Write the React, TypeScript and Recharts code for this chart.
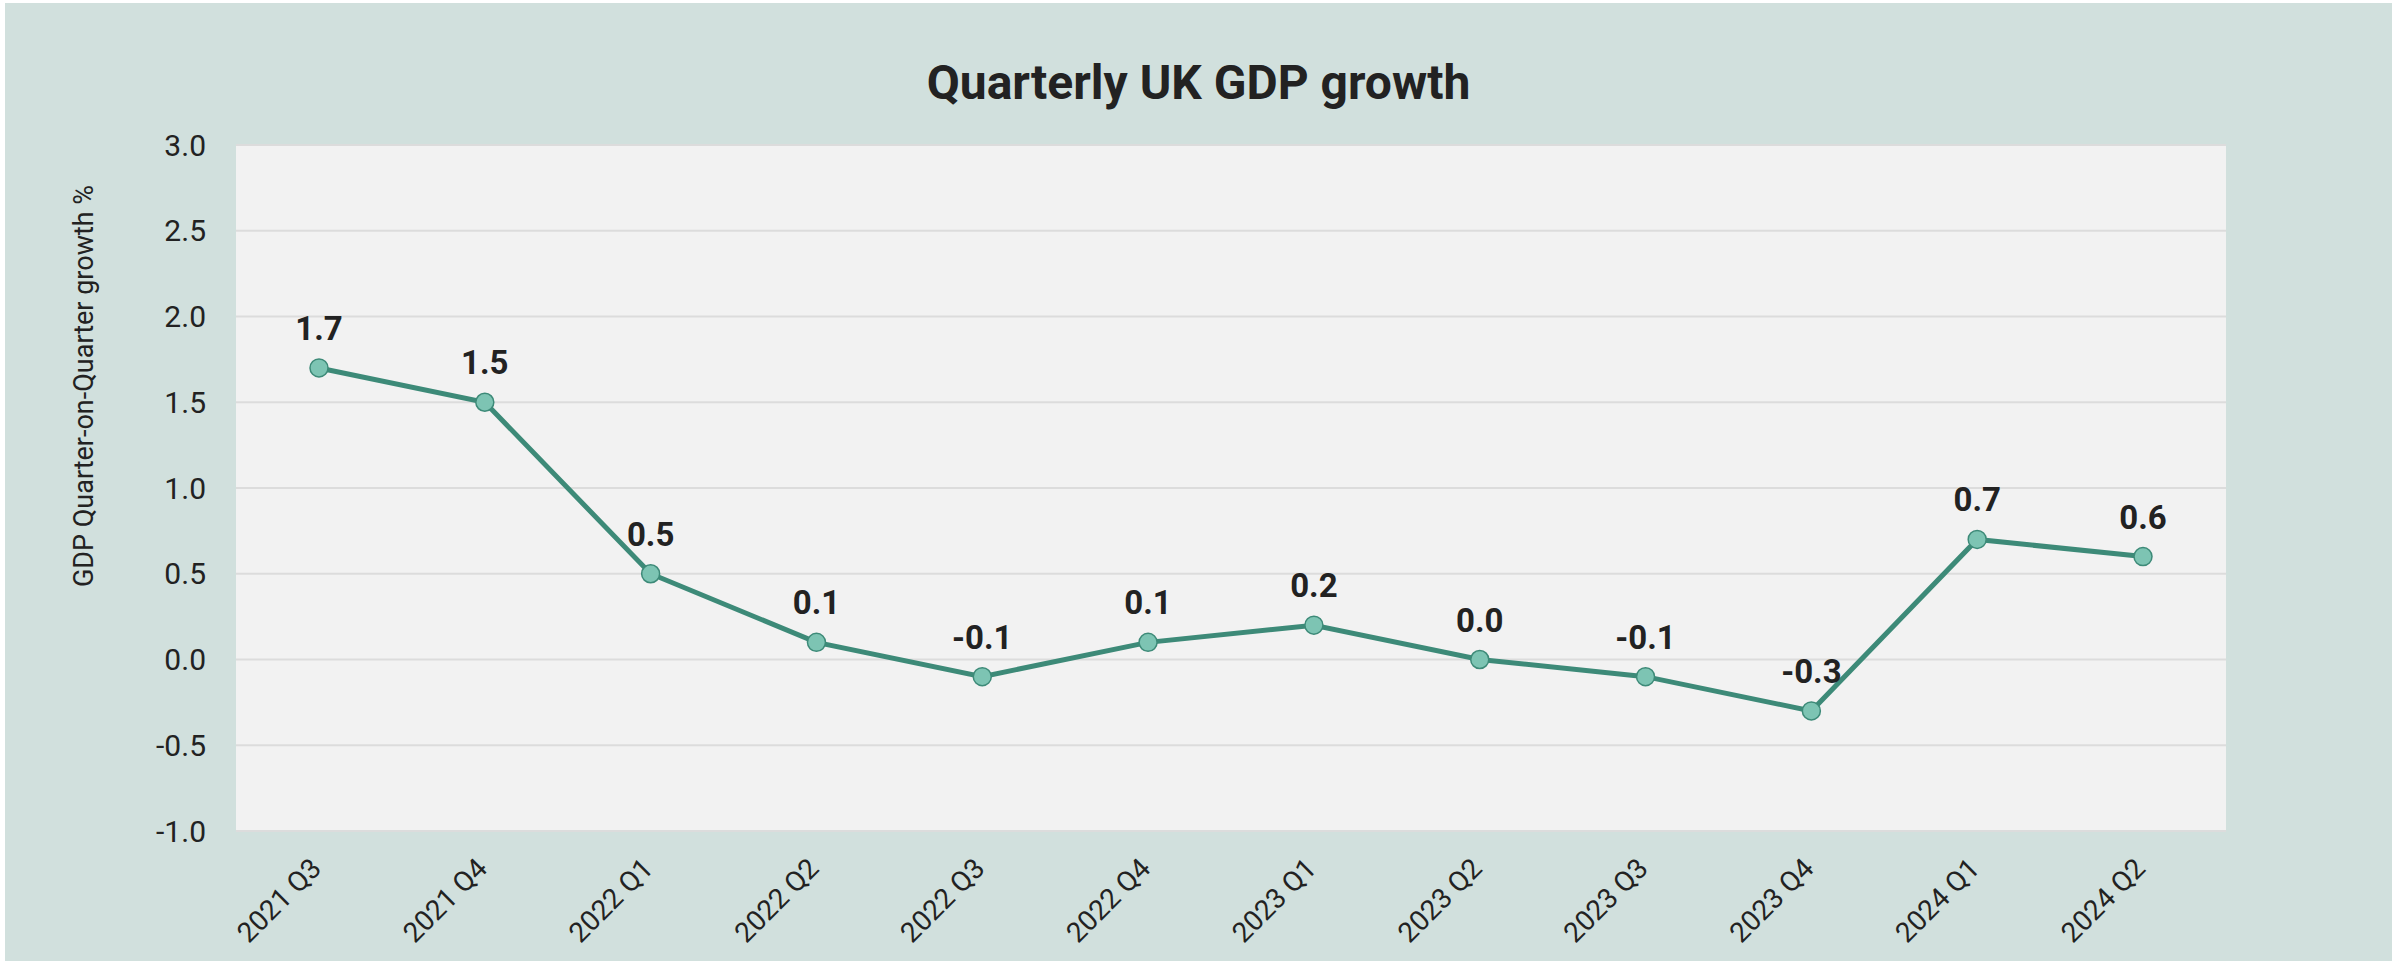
import React from 'react';
import { LineChart, Line, XAxis, YAxis, CartesianGrid, LabelList } from 'recharts';

const QUARTERS = [
  '2021 Q3', '2021 Q4', '2022 Q1', '2022 Q2', '2022 Q3', '2022 Q4',
  '2023 Q1', '2023 Q2', '2023 Q3', '2023 Q4', '2024 Q1', '2024 Q2',
];
const GROWTH = [1.7, 1.5, 0.5, 0.1, -0.1, 0.1, 0.2, 0.0, -0.1, -0.3, 0.7, 0.6];
const Y_TICKS = [-1.0, -0.5, 0.0, 0.5, 1.0, 1.5, 2.0, 2.5, 3.0];

const TITLE = 'Quarterly UK GDP growth';
const Y_LABEL = 'GDP Quarter-on-Quarter growth %';

const data = QUARTERS.map((q, i) => ({ quarter: q, growth: GROWTH[i] }));

const W = 2387;
const H = 958;
const FONT = 'Roboto, "Noto Sans", sans-serif';
const LINE = '#3d8a78';
const DOT = '#7dc4b3';

// rotated quarter labels, text ends just under the point's x position
const QuarterTick = ({ x, y, payload }: { x?: number; y?: number; payload?: { value: string } }) => {
  const tx = (x ?? 0) + 4;
  const ty = (y ?? 0) + 37;
  return (
    <text
      x={tx}
      y={ty}
      transform={`rotate(-45, ${tx}, ${ty})`}
      textAnchor="end"
      fontSize={28}
      fontFamily={FONT}
      fill="#222"
    >
      {payload?.value}
    </text>
  );
};

const YTitle = () => (
  <text
    x={88}
    y={383}
    transform="rotate(-90, 88, 383)"
    textAnchor="middle"
    fontSize={27}
    fontFamily={FONT}
    fill="#222"
  >
    {Y_LABEL}
  </text>
);

export default function App() {
  return (
    <div
      style={{
        position: 'absolute',
        left: 5,
        top: 3,
        width: W,
        height: H,
        background: '#d1e0dd',
        fontFamily: FONT,
      }}
    >
      <div
        style={{
          position: 'absolute',
          left: 0,
          width: W,
          top: 50,
          textAlign: 'center',
          fontSize: 48,
          fontWeight: 700,
          color: '#222',
          lineHeight: '60px',
        }}
      >
        {TITLE}
      </div>
      <LineChart
        width={W}
        height={H}
        data={data}
        margin={{ top: 142, right: 166, left: 0, bottom: 0 }}
      >
        <CartesianGrid vertical={false} fill="#f2f2f2" stroke="#dcdcdc" strokeWidth={2} />
        <XAxis
          dataKey="quarter"
          height={130}
          axisLine={false}
          tickLine={false}
          tickSize={0}
          padding={{ left: 83, right: 83 }}
          interval={0}
          tick={<QuarterTick />}
        />
        <YAxis
          type="number"
          domain={[-1, 3]}
          ticks={Y_TICKS}
          width={231}
          axisLine={false}
          tickLine={false}
          tickSize={0}
          tickMargin={30}
          tickFormatter={(v: number) => v.toFixed(1)}
          tick={{ fill: '#222', fontSize: 30, fontFamily: FONT }}
          label={{ content: () => <YTitle /> }}
        />
        <Line
          dataKey="growth"
          stroke={LINE}
          strokeWidth={5}
          dot={{ r: 9, fill: DOT, stroke: LINE, strokeWidth: 1.5 }}
          isAnimationActive={false}
        >
          <LabelList
            dataKey="growth"
            position="top"
            offset={28}
            formatter={(v: number) => v.toFixed(1)}
            style={{ fontSize: 33, fontWeight: 700, fontFamily: FONT, fill: '#222' }}
          />
        </Line>
      </LineChart>
    </div>
  );
}
